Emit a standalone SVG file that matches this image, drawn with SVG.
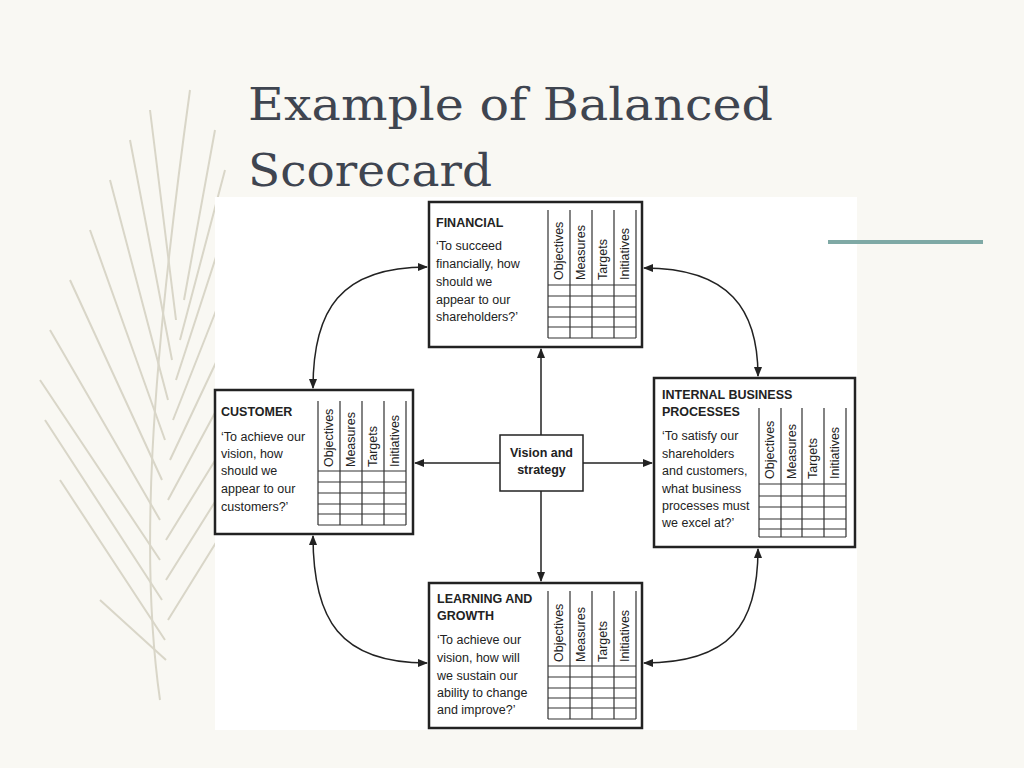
<svg xmlns="http://www.w3.org/2000/svg" width="1024" height="768" viewBox="0 0 1024 768">
<defs>
<marker id="ah" viewBox="0 0 10 10" refX="9" refY="5" markerWidth="7" markerHeight="7" orient="auto-start-reverse"><path d="M0,1 L10,5 L0,9 z" fill="#222"/></marker>
<style>
.box{fill:#fff;stroke:#222;stroke-width:2.5}
.g{stroke:#333;stroke-width:1.2;fill:none}
.t{font-family:"Liberation Sans",Arial,sans-serif;font-size:12.5px;fill:#222}
.b{font-weight:bold}
.v{font-family:"Liberation Sans",Arial,sans-serif;font-size:12.5px;fill:#222}
.c{stroke:#222;stroke-width:1.5;fill:none}
.f{stroke:#d9d6c8;stroke-width:2;fill:none}
</style>
</defs>
<rect width="1024" height="768" fill="#f9f8f3"/>
<g id="feather">
<path class="f" d="M160,700 C140,560 150,380 190,90"/>
<path class="f" d="M165,640 L60,480 M162,600 L45,420 M160,560 L40,380 M160,520 L50,330 M162,480 L70,280 M165,440 L90,230 M168,400 L110,180 M172,360 L130,140 M176,320 L150,110 M166,660 L100,600 M168,620 L230,520 M166,580 L235,470 M166,540 L240,420 M168,500 L238,370 M170,460 L236,320 M173,420 L232,270 M176,380 L228,220 M180,340 L225,170 M184,300 L215,130"/>
</g>
<text x="248" y="120" font-family="'DejaVu Serif',Georgia,serif" font-size="45" fill="#3f4550" textLength="525" lengthAdjust="spacingAndGlyphs">Example of Balanced</text>
<text x="248" y="186" font-family="'DejaVu Serif',Georgia,serif" font-size="45" fill="#3f4550" textLength="244" lengthAdjust="spacingAndGlyphs">Scorecard</text>
<rect x="215" y="197" width="642" height="533" fill="#fff"/>
<line x1="828" y1="242" x2="983" y2="242" stroke="#7fa9a5" stroke-width="4"/>

<g id="connectors">
<line class="c" x1="541" y1="435" x2="541" y2="349" marker-end="url(#ah)"/>
<line class="c" x1="541" y1="491" x2="541" y2="581" marker-end="url(#ah)"/>
<line class="c" x1="500" y1="463" x2="415" y2="463" marker-end="url(#ah)"/>
<line class="c" x1="583" y1="463" x2="652" y2="463" marker-end="url(#ah)"/>
<path class="c" d="M427,267 C340,267 313,310 313,388" marker-start="url(#ah)" marker-end="url(#ah)"/>
<path class="c" d="M644,268 C730,268 758,310 758,376" marker-start="url(#ah)" marker-end="url(#ah)"/>
<path class="c" d="M313,536 C313,620 340,663 427,663" marker-start="url(#ah)" marker-end="url(#ah)"/>
<path class="c" d="M758,549 C758,625 730,663 644,663" marker-start="url(#ah)" marker-end="url(#ah)"/>
</g>

<g id="financial">
<rect class="box" x="429" y="202" width="213" height="145"/>
<text class="t b" x="436" y="227">FINANCIAL</text>
<text class="t" x="436" y="250">‘To succeed</text>
<text class="t" x="436" y="268">financially, how</text>
<text class="t" x="436" y="286">should we</text>
<text class="t" x="436" y="304">appear to our</text>
<text class="t" x="436" y="321">shareholders?’</text>
<path class="g" d="M548,210V338M570,210V338M592,210V338M614,210V338M636,210V338M548,285H636M548,296H636M548,307H636M548,317H636M548,327H636M548,338H636"/>
<text class="t" transform="translate(563,280) rotate(-90)">Objectives</text>
<text class="t" transform="translate(585,280) rotate(-90)">Measures</text>
<text class="t" transform="translate(607,280) rotate(-90)">Targets</text>
<text class="t" transform="translate(629,280) rotate(-90)">Initiatives</text>
</g>

<g id="internal">
<rect class="box" x="654" y="378" width="201" height="169"/>
<text class="t b" x="662" y="399">INTERNAL BUSINESS</text>
<text class="t b" x="662" y="416">PROCESSES</text>
<text class="t" x="662" y="440">‘To satisfy our</text>
<text class="t" x="662" y="458">shareholders</text>
<text class="t" x="662" y="475">and customers,</text>
<text class="t" x="662" y="493">what business</text>
<text class="t" x="662" y="510">processes must</text>
<text class="t" x="662" y="527">we excel at?’</text>
<path class="g" d="M759,408V537M781,408V537M802,408V537M824,408V537M846,408V537M759,484H846M759,496H846M759,507H846M759,519H846M759,529H846M759,537H846"/>
<text class="t" transform="translate(774,479) rotate(-90)">Objectives</text>
<text class="t" transform="translate(796,479) rotate(-90)">Measures</text>
<text class="t" transform="translate(817,479) rotate(-90)">Targets</text>
<text class="t" transform="translate(839,479) rotate(-90)">Initiatives</text>
</g>

<g id="customer">
<rect class="box" x="215" y="390" width="198" height="144"/>
<text class="t b" x="221" y="416">CUSTOMER</text>
<text class="t" x="221" y="441">‘To achieve our</text>
<text class="t" x="221" y="458">vision, how</text>
<text class="t" x="221" y="475">should we</text>
<text class="t" x="221" y="493">appear to our</text>
<text class="t" x="221" y="511">customers?’</text>
<path class="g" d="M318,401V525M340,401V525M362,401V525M384,401V525M406,401V525M318,471H406M318,482H406M318,493H406M318,504H406M318,514H406M318,525H406"/>
<text class="t" transform="translate(333,467) rotate(-90)">Objectives</text>
<text class="t" transform="translate(355,467) rotate(-90)">Measures</text>
<text class="t" transform="translate(377,467) rotate(-90)">Targets</text>
<text class="t" transform="translate(399,467) rotate(-90)">Initiatives</text>
</g>

<g id="learning">
<rect class="box" x="429" y="583" width="213" height="145"/>
<text class="t b" x="437" y="603">LEARNING AND</text>
<text class="t b" x="437" y="620">GROWTH</text>
<text class="t" x="437" y="644">‘To achieve our</text>
<text class="t" x="437" y="662">vision, how will</text>
<text class="t" x="437" y="680">we sustain our</text>
<text class="t" x="437" y="697">ability to change</text>
<text class="t" x="437" y="714">and improve?’</text>
<path class="g" d="M548,591V719M570,591V719M592,591V719M614,591V719M636,591V719M548,666H636M548,677H636M548,688H636M548,698H636M548,708H636M548,719H636"/>
<text class="t" transform="translate(563,662) rotate(-90)">Objectives</text>
<text class="t" transform="translate(585,662) rotate(-90)">Measures</text>
<text class="t" transform="translate(607,662) rotate(-90)">Targets</text>
<text class="t" transform="translate(629,662) rotate(-90)">Initiatives</text>
</g>

<g id="vision">
<rect x="500" y="435" width="83" height="56" fill="#fff" stroke="#222" stroke-width="1.5"/>
<text class="v b" x="541.5" y="457" text-anchor="middle">Vision and</text>
<text class="v b" x="541.5" y="474" text-anchor="middle">strategy</text>
</g>
</svg>
